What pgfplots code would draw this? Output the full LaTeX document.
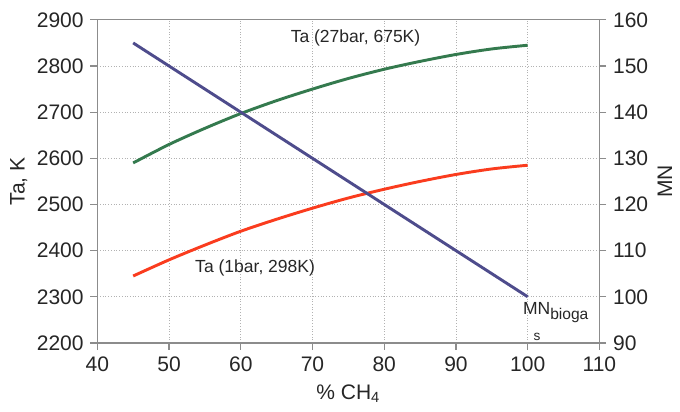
\documentclass[border=0pt]{standalone}
\usepackage{pgfplots}
\pgfplotsset{compat=1.18}
\usepackage{fontspec}
\setmainfont{Liberation Sans}
\definecolor{cgreen}{RGB}{52,122,78}
\definecolor{cred}{RGB}{250,60,30}
\definecolor{cblue}{RGB}{78,76,140}
\definecolor{axgray}{RGB}{140,140,140}
\begin{document}
\begin{tikzpicture}
\pgfplotsset{
  every axis/.append style={
    width=258pt, height=166pt, scale only axis,
    xmin=40, xmax=110,
    tick align=outside,
    axis line style={axgray, line width=0.6pt},
    tick style={axgray, line width=0.6pt},
    major tick length=3.5pt,
    /pgf/number format/assume math mode=true,
    /pgf/number format/1000 sep={},
    tick label style={font=\fontsize{10.8}{12}\selectfont, text=black!85},
    label style={font=\fontsize{10.8}{12}\selectfont, text=black!85},
  }
}
\begin{axis}[
  name=main,
  ymin=2200, ymax=2900,
  ytick={2200,2300,...,2900},
  xtick={40,50,...,110},
  grid=major,
  grid style={densely dotted, gray!60, line width=0.4pt},
  axis y line*=left,
  axis x line*=bottom,
  xlabel={\% CH\textsubscript{4}},
  ylabel={Ta, K},
  ylabel style={yshift=-2pt},
  clip=false,
]
\addplot[cgreen, line width=1.5pt, smooth] coordinates {
(45,2590) (50,2630) (55,2665) (60,2697) (65,2725) (70,2750) (75,2773) (80,2793) (85,2810) (90,2825) (95,2837) (100,2845)};
\addplot[cred, line width=1.5pt, smooth] coordinates {
(45,2345) (50,2380) (55,2412) (60,2442) (65,2468) (70,2492) (75,2514) (80,2533) (85,2550) (90,2565) (95,2577) (100,2585)};
\node[font=\small, text=black!85] at (axis cs:76,2860) {Ta (27bar, 675K)};
\node[font=\small, text=black!85] at (axis cs:62,2362) {Ta (1bar, 298K)};
\node[font=\small, text=black!85, anchor=west, inner sep=0pt] at (axis cs:99.3,2265) {MN\textsubscript{\footnotesize bioga}};
\node[font=\scriptsize, text=black!85, inner sep=0pt] at (axis cs:101.3,2212) {s};
\draw[axgray, line width=0.6pt] (axis cs:40,2900) -- (axis cs:110,2900);
\end{axis}
\begin{axis}[
  ymin=90, ymax=160,
  ytick={90,100,...,160},
  axis y line*=right,
  axis x line=none,
  ylabel={MN},
  ylabel style={yshift=2pt},
]
\addplot[cblue, line width=1.5pt] coordinates {(45,155) (100,100)};
\end{axis}
\pgfresetboundingbox
\path[use as bounding box] ([xshift=-50pt,yshift=-35.3pt]main.south west) rectangle ([xshift=41.4pt,yshift=10.2pt]main.north east);
\end{tikzpicture}
\end{document}
